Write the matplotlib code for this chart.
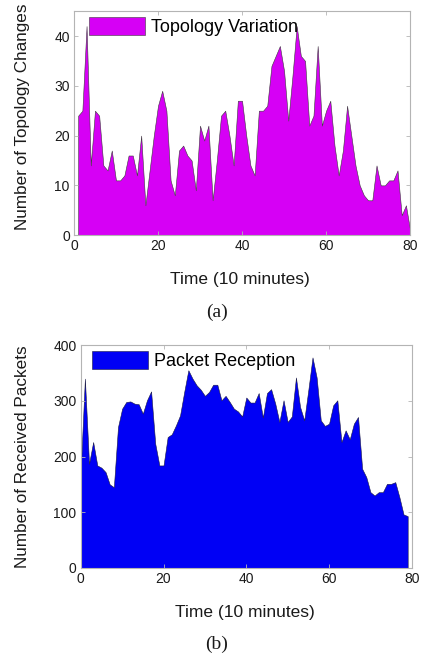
import matplotlib
matplotlib.use("Agg")
import matplotlib.pyplot as plt
import numpy as np

# (a) topology changes, sampled every 10 minutes
topo_time = list(range(1, 81))
topo_changes = [24, 25, 42, 14, 25, 24, 14, 13, 17, 11,
                11, 12, 16, 16, 12, 20, 6, 13, 20, 26,
                29, 25, 11, 8, 17, 18, 16, 15, 9, 22,
                19, 22, 7, 15, 24, 25, 20, 14, 27, 27,
                20, 14, 12, 25, 25, 26, 34, 36, 38, 33,
                23, 32, 42, 36, 35, 22, 24, 38, 22, 25,
                27, 18, 12, 17, 26, 20, 14, 10, 8, 7,
                7, 14, 10, 10, 11, 11, 13, 4, 6, 1]

# (b) received packets
pkt_time = list(range(0, 80))
pkt_received = [175, 340, 187, 226, 184, 180, 172, 150, 145, 253,
                286, 298, 299, 295, 294, 277, 301, 317, 223, 184,
                184, 235, 240, 256, 274, 316, 355, 340, 328, 320,
                309, 316, 329, 329, 301, 309, 298, 286, 281, 272,
                306, 297, 297, 314, 270, 314, 321, 295, 262, 301,
                262, 272, 342, 289, 265, 320, 378, 342, 265, 255,
                259, 292, 301, 226, 247, 231, 259, 271, 178, 163,
                136, 130, 136, 136, 151, 151, 154, 127, 96, 93]

SANS = ["Liberation Sans", "DejaVu Sans"]
SERIF = ["Liberation Serif", "DejaVu Serif"]
TXT = "#1a1a1a"
FRAME = "#b4b4b4"

plt.rcParams["font.family"] = SANS

fig = plt.figure(figsize=(4.25, 6.55), dpi=100)


def style_axes(ax):
    for s in ax.spines.values():
        s.set_color(FRAME)
        s.set_linewidth(0.8)
    ax.tick_params(direction="in", length=3, width=0.6, color=FRAME,
                   labelsize=10, labelcolor=TXT, top=True, right=True, pad=3)


# top panel
ax1 = fig.add_axes([0.174, 0.641, 0.791, 0.342])
ax1.fill_between(topo_time, topo_changes, color="#d600f5", edgecolor="#3a3a3a",
                 linewidth=0.4, label="Topology Variation")
ax1.set_xlim(0, 80)
ax1.set_ylim(0, 45)
ax1.set_xticks([0, 20, 40, 60, 80])
ax1.set_yticks([0, 10, 20, 30, 40])
style_axes(ax1)
ax1.set_xlabel("Time (10 minutes)", fontsize=12.5, color=TXT, va="center")
ax1.xaxis.set_label_coords(0.495, -0.196)
ax1.set_ylabel("Number of Topology Changes", fontsize=12.3, color=TXT, va="center")
ax1.yaxis.set_label_coords(-0.152, 0.53)
ax1.legend(loc="upper left", bbox_to_anchor=(0.045, 0.975), frameon=False,
           fontsize=13, borderpad=0, borderaxespad=0, handlelength=3.1,
           handleheight=1.2, handletextpad=0.35)
fig.text(217 / 425, 1 - 312 / 655, "(a)", family=SERIF, fontsize=14,
         color=TXT, ha="center", va="center")

# bottom panel
ax2 = fig.add_axes([0.190, 0.133, 0.779, 0.340])
ax2.fill_between(pkt_time, pkt_received, color="#0000f5", edgecolor="#1a1a40",
                 linewidth=0.4, label="Packet Reception")
ax2.set_xlim(0, 80)
ax2.set_ylim(0, 400)
ax2.set_xticks([0, 20, 40, 60, 80])
ax2.set_yticks([0, 100, 200, 300, 400])
style_axes(ax2)
ax2.set_xlabel("Time (10 minutes)", fontsize=12.5, color=TXT, va="center")
ax2.xaxis.set_label_coords(0.495, -0.2)
ax2.set_ylabel("Number of Received Packets", fontsize=12.3, color=TXT, va="center")
ax2.yaxis.set_label_coords(-0.177, 0.5)
ax2.legend(loc="upper left", bbox_to_anchor=(0.033, 0.975), frameon=False,
           fontsize=13, borderpad=0, borderaxespad=0, handlelength=3.1,
           handleheight=1.2, handletextpad=0.35)
fig.text(217 / 425, 1 - 644 / 655, "(b)", family=SERIF, fontsize=14,
         color=TXT, ha="center", va="center")

fig.savefig("out.png", dpi=100)
